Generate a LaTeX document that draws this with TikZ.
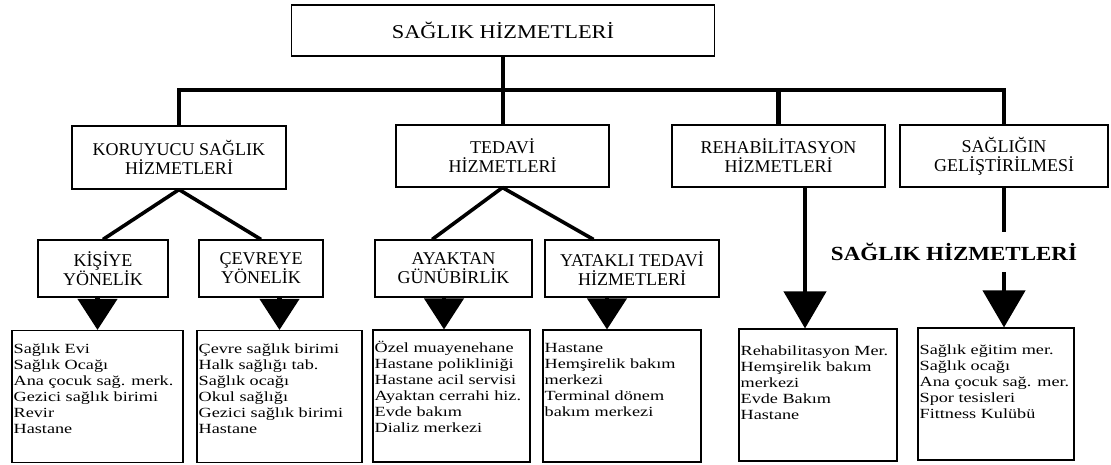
\documentclass[tikz,border=0pt]{standalone}
\usepackage{fontspec}
\setmainfont{Liberation Serif}
\newfontfamily\hdfont{Liberation Serif}[FakeStretch=1.15]
\newfontfamily\lsfont{Liberation Serif}[FakeStretch=1.3]
\usetikzlibrary{arrows.meta,calc}
\lineskiplimit=-\maxdimen
\begin{document}
\begin{tikzpicture}[x=1pt,y=-1pt,
    box/.style={draw,line width=1.1pt,inner sep=0pt,align=center,font=\fontsize{18}{19}\selectfont},
    lst/.style={draw,line width=1.1pt,minimum height=132pt},
    lsttxt/.style={anchor=north west,align=left,inner xsep=2pt,inner ysep=13.5pt,font=\lsfont\fontsize{14}{16}\selectfont},
    conn/.style={line width=4.2pt},
    vee/.style={line width=3.6pt,line join=round},
    tip/.style={line width=4.2pt,-{Triangle[length=31pt,width=39pt]}},
    bigtip/.style={line width=4.2pt,-{Triangle[length=37pt,width=42pt]}}] %[scale=1]
  \useasboundingbox (0,0) rectangle (1111,465);
  \node[box,minimum width=423pt,minimum height=51pt,font=\hdfont\fontsize{19.5}{20}\selectfont] (top) at (503,30.5) {SAĞLIK HİZMETLERİ};
  \node[box,minimum width=214pt,minimum height=63pt] (kor) at (179,157.5) {KORUYUCU SAĞLIK\\HİZMETLERİ};
  \node[box,minimum width=213pt,minimum height=62pt] (ted) at (502.5,156) {TEDAVİ\\HİZMETLERİ};
  \node[box,minimum width=213pt,minimum height=62pt] (reh) at (778.5,156) {REHABİLİTASYON\\HİZMETLERİ};
  \node[box,minimum width=208pt,minimum height=62pt] (gel) at (1004,156) {SAĞLIĞIN\\GELİŞTİRİLMESİ};
  \node[box,minimum width=130pt,minimum height=57pt] (kis) at (103,268.5) {KİŞİYE\\YÖNELİK};
  \node[box,minimum width=124pt,minimum height=57pt] (cev) at (261,268.5) {ÇEVREYE\\YÖNELİK};
  \node[box,minimum width=157pt,minimum height=57pt] (aya) at (453.5,268.5) {AYAKTAN\\GÜNÜBİRLİK};
  \node[box,minimum width=174pt,minimum height=57pt] (yat) at (632,268.5) {YATAKLI TEDAVİ\\HİZMETLERİ};
  \node[lst,minimum width=171pt] (l1) at (97.5,396.5) {};
  \node[lst,minimum width=165pt] (l2) at (279.5,396.5) {};
  \node[lst,minimum width=157pt] (l3) at (451.5,396) {};
  \node[lst,minimum width=158pt] (l4) at (622,396) {};
  \node[lst,minimum width=158pt] (l5) at (818,395) {};
  \node[lst,minimum width=156pt] (l6) at (996,394) {};
  \node[lsttxt] (t1) at (l1.north west) {Sağlık Evi\\Sağlık Ocağı\\Ana çocuk sağ. merk.\\Gezici sağlık birimi\\Revir\\Hastane};
  \node[lsttxt] (t2) at (l2.north west) {Çevre sağlık birimi\\Halk sağlığı tab.\\Sağlık ocağı\\Okul sağlığı\\Gezici sağlık birimi\\Hastane};
  \node[lsttxt,inner ysep=12pt] (t3) at (l3.north west) {Özel muayenehane\\Hastane polikliniği\\Hastane acil servisi\\Ayaktan cerrahi hiz.\\Evde bakım\\Dializ merkezi};
  \node[lsttxt] (t4) at (l4.north west) {Hastane\\Hemşirelik bakım\\merkezi\\Terminal dönem\\bakım merkezi};
  \node[lsttxt,inner ysep=17pt] (t5) at (l5.north west) {Rehabilitasyon Mer.\\Hemşirelik bakım\\merkezi\\Evde Bakım\\Hastane};
  \node[lsttxt,inner ysep=17pt] (t6) at (l6.north west) {Sağlık eğitim mer.\\Sağlık ocağı\\Ana çocuk sağ. mer.\\Spor tesisleri\\Fittness Kulübü};
  \node[font=\hdfont\bfseries\fontsize{20}{22}\selectfont] (lbl) at (954,252) {SAĞLIK HİZMETLERİ};
  \coordinate (b) at (503,90);
  \coordinate (rh) at (805,187.5);
  \coordinate (g1) at (1004,232);
  \coordinate (g2) at (1004,272);
  \coordinate (a3) at (444,330);
  \coordinate (a4) at (607,330);
  \draw[conn] (kor.north) |- (b) -| (gel.north);
  \draw[conn] (top.south) -- (top.south |- ted.north);
  \draw[conn] (reh.north) -- (reh.north |- b);
  \draw[vee] (kis.north) -- (kor.south) -- (cev.north);
  \draw[vee] ($(aya.north west)!.365!(aya.north east)$) -- (ted.south) -- ($(yat.north west)!.28!(yat.north east)$);
  \draw[tip] (l1.north |- kis.south) -- (l1.north);
  \draw[tip] (l2.north |- cev.south) -- (l2.north);
  \draw[tip] (a3 |- aya.south) -- (a3 |- l3.north);
  \draw[tip] (a4 |- yat.south) -- (a4 |- l4.north);
  \draw[bigtip] (rh) -- (rh |- l5.north);
  \draw[conn] (gel.south) -- (g1);
  \draw[bigtip] (g2) -- (g2 |- l6.north);
\end{tikzpicture}
\end{document}
